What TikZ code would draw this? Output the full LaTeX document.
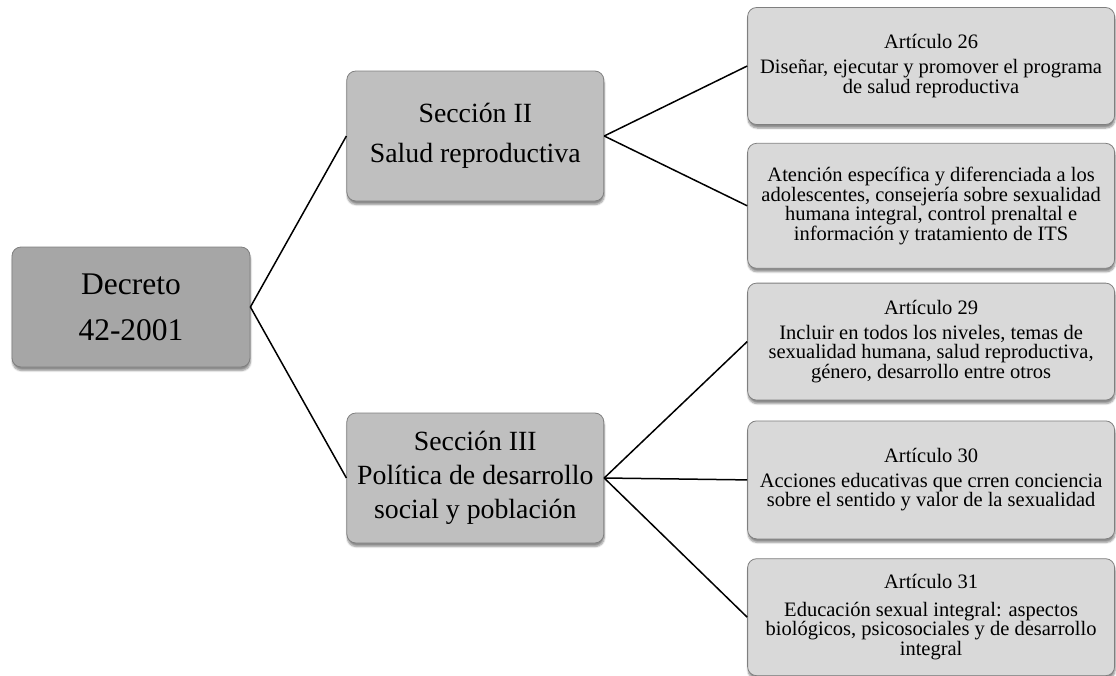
\documentclass[tikz,border=0pt]{standalone}
\usepackage{fontspec}
\setmainfont{Liberation Serif}
\usetikzlibrary{positioning, shadows.blur}
\usepackage{xcolor}
\definecolor{decretogray}{HTML}{A6A6A6}
\definecolor{secciongray}{HTML}{BFBFBF}
\definecolor{articulogray}{HTML}{D9D9D9}
\definecolor{bordergray}{HTML}{7F7F7F}

\begin{document}
\begin{tikzpicture}[
    x=1pt, y=-1pt,
    % Estilos de cajas
    basebox/.style={
        rectangle,
        draw=bordergray,
        line width=0.8pt,
        rounded corners=9pt,
        align=center,
        inner sep=2pt,
        blur shadow={shadow xshift=0.5pt, shadow yshift=-3.5pt, shadow blur steps=6, shadow opacity=45}
    },
    decretobox/.style={
        basebox,
        fill=decretogray,
        minimum width=238pt,
        minimum height=120pt,
        font=\fontsize{31.5}{46}\selectfont
    },
    seccionbox/.style={
        basebox,
        fill=secciongray,
        minimum width=257pt,
        minimum height=130pt,
        font=\fontsize{27.8}{34}\selectfont
    },
    articulobox/.style={
        basebox,
        fill=articulogray,
        minimum width=367pt,
        minimum height=117pt,
        font=\fontsize{20.5}{19.6}\selectfont
    },
    link/.style={
        draw=black,
        line width=1.5pt
    }
]
    \useasboundingbox (0,0) rectangle (1116,675);

    % ==========================================
    % 1. DECRETO (Izquierda)
    % ==========================================
    \node[decretobox] (decreto) at (131,307) {Decreto\\42-2001};

    % ==========================================
    % 2. SECCIONES (Centro)
    % ==========================================
    \node[seccionbox, right=96pt of decreto, yshift=171pt] (seccionII) {
        Sección II\\[6pt]
        Salud reproductiva
    };
    \node[seccionbox, right=96pt of decreto, yshift=-171pt] (seccionIII) {
        Sección III\\
        Política de desarrollo\\
        social y población
    };

    % ==========================================
    % 3. ARTICULOS (Derecha)
    % ==========================================
    \node[articulobox, right=143pt of seccionII, yshift=70pt] (art26) {
        Artículo 26\\[5pt]
        Diseñar, ejecutar y promover el programa\\
        de salud reproductiva
    };
    \node[articulobox, below=18pt of art26, minimum height=125pt] (atencion) {
        Atención específica y diferenciada a los\\
        adolescentes, consejería sobre sexualidad\\
        humana integral, control prenaltal e\\
        información y tratamiento de ITS
    };
    \node[articulobox, below=14pt of atencion] (art29) {
        Artículo 29\\[5pt]
        Incluir en todos los niveles, temas de\\
        sexualidad humana, salud reproductiva,\\
        género, desarrollo entre otros
    };
    \node[articulobox, below=20pt of art29, minimum height=118pt] (art30) {
        Artículo 30\\[5pt]
        Acciones educativas que crren conciencia\\
        sobre el sentido y valor de la sexualidad
    };
    \node[articulobox, below=19pt of art30] (art31) {
        Artículo 31\\[8pt]
        Educación sexual integral: aspectos\\
        biológicos, psicosociales y de desarrollo\\
        integral
    };

    % ==========================================
    % CONEXIONES
    % ==========================================
    \draw[link] (decreto.east) -- (seccionII.west);
    \draw[link] (decreto.east) -- (seccionIII.west);

    \draw[link] (seccionII.east) -- (art26.west);
    \draw[link] (seccionII.east) -- (atencion.west);

    \draw[link] (seccionIII.east) -- (art29.west);
    \draw[link] (seccionIII.east) -- (art30.west);
    \draw[link] (seccionIII.east) -- (art31.west);

\end{tikzpicture}
\end{document}
